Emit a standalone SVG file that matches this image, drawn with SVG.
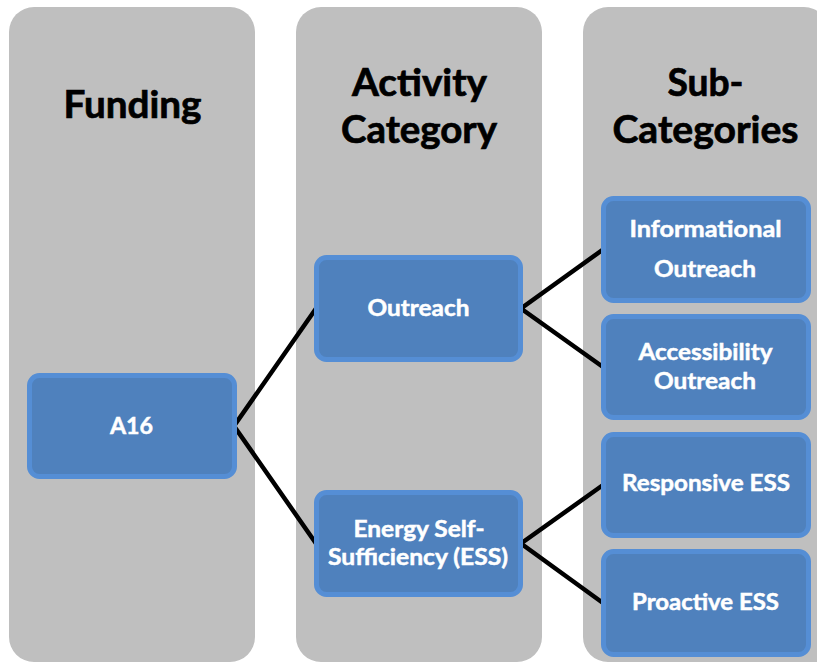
<svg xmlns="http://www.w3.org/2000/svg" width="817" height="662" viewBox="0 0 817 662">
<style>
.panel{fill:#BFBFBF}
.node{fill:#4F81BD;stroke:#558ED5;stroke-width:5}
.hdr{font-family:Lato,"Liberation Sans",sans-serif;font-weight:700;font-size:38px;fill:#000;stroke:#000;stroke-width:0.7;text-anchor:middle}
.lbl{font-family:Lato,"Liberation Sans",sans-serif;font-weight:700;font-size:23.5px;fill:#fff;stroke:#fff;stroke-width:0.5;text-anchor:middle}
.conn{stroke:#000;stroke-width:4.5;fill:none;stroke-linejoin:miter}
</style>
<g id="panels">
<rect class="panel" x="9" y="7" width="246" height="680" rx="25"/>
<rect class="panel" x="296" y="7" width="246" height="680" rx="25"/>
<rect class="panel" x="583" y="7" width="246" height="680" rx="25"/>
<rect fill="#fff" x="0" y="662" width="817" height="30"/>
<path fill="#fff" d="M9 637 v25 h25 a25 25 0 0 1 -25 -25z M255 637 v25 h-25 a25 25 0 0 0 25 -25z M296 637 v25 h25 a25 25 0 0 1 -25 -25z M542 637 v25 h-25 a25 25 0 0 0 25 -25z M583 637 v25 h25 a25 25 0 0 1 -25 -25z"/>
</g>
<g id="headers">
<text class="hdr" x="132.5" y="118" textLength="138" lengthAdjust="spacingAndGlyphs">Funding</text>
<text class="hdr" x="419.5" y="96" textLength="135" lengthAdjust="spacingAndGlyphs">Activity</text>
<text class="hdr" x="419" y="143" textLength="156" lengthAdjust="spacingAndGlyphs">Category</text>
<text class="hdr" x="705.5" y="96" textLength="76" lengthAdjust="spacingAndGlyphs">Sub-</text>
<text class="hdr" x="705.5" y="143" textLength="186" lengthAdjust="spacingAndGlyphs">Categories</text>
</g>
<g id="connectors">
<polyline class="conn" points="316,308.5 234,426 316,543.5"/>
<polyline class="conn" points="603,249.5 521,308.5 603,367"/>
<polyline class="conn" points="603,485 521,543.5 603,603"/>
</g>
<g id="node-a16">
<rect class="node" x="29.5" y="375.5" width="205" height="101" rx="10"/>
<text class="lbl" x="131.5" y="434" textLength="43" lengthAdjust="spacingAndGlyphs">A16</text>
</g>
<g id="node-outreach">
<rect class="node" x="316.5" y="257.5" width="204" height="102" rx="10"/>
<text class="lbl" x="418.5" y="316" textLength="102" lengthAdjust="spacingAndGlyphs">Outreach</text>
</g>
<g id="node-ess">
<rect class="node" x="316.5" y="492.5" width="204" height="102" rx="10"/>
<text class="lbl" x="419" y="537" textLength="131" lengthAdjust="spacingAndGlyphs">Energy Self-</text>
<text class="lbl" x="418" y="565" textLength="180" lengthAdjust="spacingAndGlyphs">Sufficiency (ESS)</text>
</g>
<g id="node-informational">
<rect class="node" x="603.5" y="198.5" width="205" height="102" rx="10"/>
<text class="lbl" x="705.5" y="237" textLength="152" lengthAdjust="spacingAndGlyphs">Informational</text>
<text class="lbl" x="705" y="277" textLength="102" lengthAdjust="spacingAndGlyphs">Outreach</text>
</g>
<g id="node-accessibility">
<rect class="node" x="603.5" y="316.5" width="205" height="101" rx="10"/>
<text class="lbl" x="705.5" y="360" textLength="134" lengthAdjust="spacingAndGlyphs">Accessibility</text>
<text class="lbl" x="705" y="388.5" textLength="102" lengthAdjust="spacingAndGlyphs">Outreach</text>
</g>
<g id="node-responsive">
<rect class="node" x="603.5" y="434.5" width="205" height="101" rx="10"/>
<text class="lbl" x="706" y="491" textLength="168" lengthAdjust="spacingAndGlyphs">Responsive ESS</text>
</g>
<g id="node-proactive">
<rect class="node" x="603.5" y="551.5" width="205" height="103" rx="10"/>
<text class="lbl" x="705.5" y="609.5" textLength="147" lengthAdjust="spacingAndGlyphs">Proactive ESS</text>
</g>
</svg>
